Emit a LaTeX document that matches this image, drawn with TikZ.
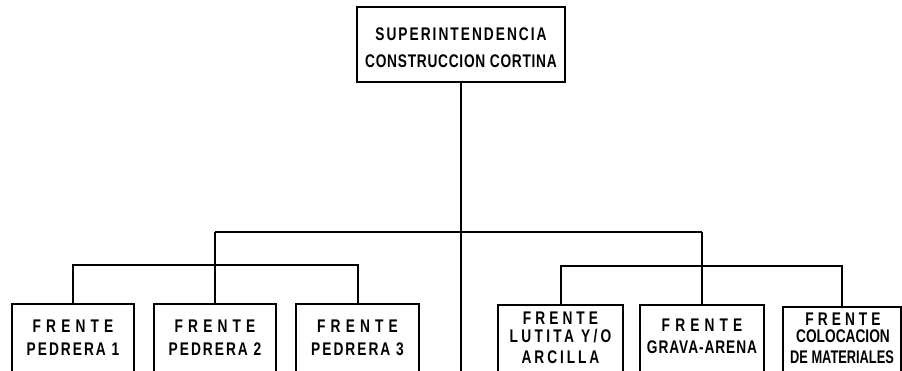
\documentclass[tikz,border=0pt]{standalone}
\usepackage{fontspec}
\newfontfamily\lab{Liberation Sans}[FakeStretch=0.75]
\newcommand{\lsp}[2]{{\addfontfeature{LetterSpace=#1}#2}}
\begin{document}
\begin{tikzpicture}[x=1pt,y=-1pt,
  box/.style={draw, line width=2.4pt, inner sep=0pt},
  conn/.style={line width=2pt},
  txt/.style={anchor=base, inner sep=0pt, font=\lab\bfseries\fontsize{18.3}{20}\selectfont}]
\useasboundingbox (0,0) rectangle (902,370);
\clip (0,0) rectangle (902,370);
% top box
\node[box, minimum width=208pt, minimum height=75pt] (top) at (461,44.5) {};
\node[txt] (t1) at (461,40) {\lsp{11}{SUPERINTENDENCIA}};
\node[txt] (t2) at (461,67) {\lsp{4}{CONSTRUCCION CORTINA}};
% bottom boxes (cut by the lower edge)
\node[box, minimum width=122pt, minimum height=82pt] (p1) at (73,345) {};
\node[box, minimum width=122pt, minimum height=82pt] (p2) at (215,345) {};
\node[box, minimum width=123pt, minimum height=82pt] (p3) at (357.5,345) {};
\node[box, minimum width=125pt, minimum height=80pt] (r1) at (560.5,345) {};
\node[box, minimum width=124pt, minimum height=80pt] (r2) at (702,345) {};
\node[box, minimum width=118pt, minimum height=78pt] (r3) at (842,346) {};
% texts
\node[txt] (p1a) at (73,332) {\lsp{28}{FRENTE}};
\node[txt] (p1b) at (73,355) {\lsp{11}{PEDRERA 1}};
\node[txt] (p2a) at (215,332) {\lsp{28}{FRENTE}};
\node[txt] (p2b) at (215,355) {\lsp{11}{PEDRERA 2}};
\node[txt] (p3a) at (357.5,332) {\lsp{28}{FRENTE}};
\node[txt] (p3b) at (357.5,355) {\lsp{11}{PEDRERA 3}};
\node[txt] (r1a) at (560.5,324) {\lsp{22}{FRENTE}};
\node[txt] (r1b) at (560.5,342) {\lsp{18}{LUTITA Y/O}};
\node[txt] (r1c) at (560.5,363) {\lsp{16}{ARCILLA}};
\node[txt] (r2a) at (702,331) {\lsp{28}{FRENTE}};
\node[txt] (r2b) at (702,353) {\lsp{5}{GRAVA-ARENA}};
\node[txt] (r3a) at (843,325) {\lsp{22}{FRENTE}};
\node[txt] (r3b) at (843,342) {COLOCACION};
\node[txt] (r3c) at (842,363) {\addfontfeature{FakeStretch=0.70}DE MATERIALES};
% connectors
\coordinate (vend) at (461,372);
\coordinate (jl) at (215,232);
\coordinate (jr) at (702,232);
\coordinate (lb) at (215,265);
\coordinate (rb) at (702,266);
\draw[conn] (top.south) -- (vend);
\draw[conn] (jl) -- (jr);
\draw[conn] (jl) -- (p2.north);
\draw[conn] (p1.north) |- (lb) -| (p3.north);
\draw[conn] (jr) -- (r2.north);
\draw[conn] (r1.north) |- (rb) -| (r3.north);
\end{tikzpicture}
\end{document}
